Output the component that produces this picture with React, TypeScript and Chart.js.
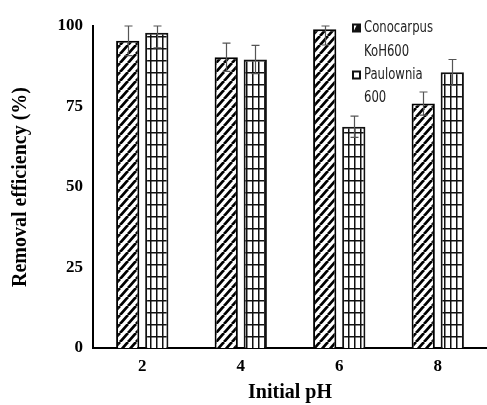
import React, { useEffect, useRef } from 'react';
import { Chart, registerables } from 'chart.js';
Chart.register(...registerables);

const categories = ['2', '4', '6', '8'];
const conocarpus = [95.4, 90.3, 99.0, 75.9];
const conocarpusErr = [4.6, 4.4, 4.9, 3.6];
const paulownia = [97.9, 89.6, 68.7, 85.6];
const paulowniaErr = [4.7, 4.4, 3.3, 4.0];
const seriesNames = ['Conocarpus KoH600', 'Paulownia 600'];
const legendLines = [['Conocarpus', 'KoH600'], ['Paulownia', '600']];
const yMin = 0;
const yMax = 100;
const yStep = 25;

function makeHatch(): CanvasPattern {
  const w = 8;
  const h = 9;
  const c = document.createElement('canvas');
  c.width = w;
  c.height = h;
  const g = c.getContext('2d')!;
  g.fillStyle = '#fff';
  g.fillRect(0, 0, w, h);
  g.strokeStyle = '#000';
  g.lineWidth = 2.8;
  g.beginPath();
  for (let k = -1; k <= 1; k++) {
    g.moveTo(k * w, h);
    g.lineTo(k * w + w, 0);
  }
  g.stroke();
  return g.createPattern(c, 'repeat')!;
}

function makeGrid(): CanvasPattern {
  const w = 6;
  const h = 12;
  const c = document.createElement('canvas');
  c.width = w;
  c.height = h;
  const g = c.getContext('2d')!;
  g.fillStyle = '#fff';
  g.fillRect(0, 0, w, h);
  g.fillStyle = '#111';
  g.fillRect(0, 0, 1.5, h);
  g.fillRect(0, 0, w, 1.5);
  return g.createPattern(c, 'repeat')!;
}

const errors = [conocarpusErr, paulowniaErr];

const errorBarPlugin = {
  id: 'errorBars',
  afterDatasetsDraw(chart: any) {
    const ctx = chart.ctx;
    const y = chart.scales.y;
    ctx.save();
    ctx.strokeStyle = '#555';
    ctx.lineWidth = 1.2;
    chart.data.datasets.forEach((ds: any, di: number) => {
      const meta = chart.getDatasetMeta(di);
      meta.data.forEach((bar: any, i: number) => {
        const v = ds.data[i];
        const e = errors[di][i];
        const top = y.getPixelForValue(Math.min(v + e, yMax));
        const bot = y.getPixelForValue(v - e);
        const x = Math.round(bar.x) + 0.5;
        const cw = 4;
        ctx.beginPath();
        ctx.moveTo(x, top);
        ctx.lineTo(x, bot);
        ctx.moveTo(x - cw, top);
        ctx.lineTo(x + cw, top);
        ctx.moveTo(x - cw, bot);
        ctx.lineTo(x + cw, bot);
        ctx.stroke();
      });
    });
    ctx.restore();
  },
};

const legendPlugin = {
  id: 'customLegend',
  afterDraw(chart: any) {
    const ctx = chart.ctx;
    ctx.save();
    const x0 = 352;
    const tx = 364;
    const ys = [28, 51.5, 75, 98];
    ctx.font = '16px "Liberation Sans Narrow", "DejaVu Sans Condensed", sans-serif';
    ctx.fillStyle = '#222';
    ctx.textBaseline = 'middle';
    ctx.textAlign = 'left';
    const sx = 69 / ctx.measureText(legendLines[0][0]).width;
    const drawText = (t: string, yy: number) => {
      ctx.save();
      ctx.translate(tx, yy);
      ctx.scale(sx, 1);
      ctx.fillText(t, 0, 0);
      ctx.restore();
    };
    drawText(legendLines[0][0], ys[0]);
    drawText(legendLines[0][1], ys[1]);
    drawText(legendLines[1][0], ys[2]);
    drawText(legendLines[1][1], ys[3]);
    // box 1
    ctx.fillStyle = '#111';
    ctx.fillRect(x0, ys[0] - 4.5, 9, 9);
    ctx.fillStyle = '#fff';
    ctx.beginPath();
    ctx.moveTo(x0 + 2, ys[0] + 2.5);
    ctx.lineTo(x0 + 2, ys[0] - 2.5);
    ctx.lineTo(x0 + 4.5, ys[0] - 2.5);
    ctx.closePath();
    ctx.fill();
    // box 2
    ctx.fillStyle = '#111';
    ctx.fillRect(x0, ys[2] - 4.5, 9, 9);
    ctx.fillStyle = '#fff';
    ctx.fillRect(x0 + 2, ys[2] - 2.5, 5, 5);
    ctx.restore();
  },
};

export default function App() {
  const ref = useRef<HTMLCanvasElement>(null);
  useEffect(() => {
    const canvas = ref.current!;
    const serif = '"Liberation Serif", "Times New Roman", serif';
    const chart = new Chart(canvas, {
      type: 'bar',
      data: {
        labels: categories,
        datasets: [
          {
            label: seriesNames[0],
            data: conocarpus,
            backgroundColor: makeHatch(),
            borderColor: '#000',
            borderWidth: 2,
            categoryPercentage: 0.59,
            barPercentage: 0.8,
          },
          {
            label: seriesNames[1],
            data: paulownia,
            backgroundColor: makeGrid(),
            borderColor: '#111',
            borderWidth: 2,
            categoryPercentage: 0.59,
            barPercentage: 0.8,
          },
        ],
      },
      options: {
        animation: false,
        responsive: false,
        maintainAspectRatio: false,
        layout: { padding: { top: 26, right: 0, left: 0, bottom: 0 } },
        plugins: {
          legend: { display: false },
          tooltip: { enabled: false },
        },
        scales: {
          x: {
            grid: { display: false, drawTicks: false },
            border: { display: true, color: '#000', width: 2 },
            ticks: { color: '#000', font: { family: serif, size: 17, weight: 'bold' }, padding: 8 },
            title: {
              display: true,
              text: 'Initial pH',
              color: '#000',
              font: { family: serif, size: 20, weight: 'bold' },
              padding: { top: 0, bottom: 0 },
            },
            afterFit(scale: any) {
              scale.height = 57;
            },
          },
          y: {
            min: yMin,
            max: yMax,
            grid: { display: false, drawTicks: false },
            border: { display: true, color: '#000', width: 2 },
            ticks: {
              stepSize: yStep,
              color: '#000',
              font: { family: serif, size: 17, weight: 'bold' },
              padding: 10,
            },
            title: {
              display: true,
              text: 'Removal efficiency (%)',
              color: '#000',
              font: { family: serif, size: 20, weight: 'bold' },
              padding: { top: 9, bottom: 0 },
            },
            afterFit(scale: any) {
              scale.width = 93;
            },
          },
        },
      },
      plugins: [errorBarPlugin, legendPlugin],
    } as any);
    return () => chart.destroy();
  }, []);
  return (
    <div style={{ position: 'absolute', left: 0, top: 0, width: 487, height: 405, background: '#fff' }}>
      <canvas ref={ref} width={487} height={405} style={{ display: 'block' }} />
    </div>
  );
}
